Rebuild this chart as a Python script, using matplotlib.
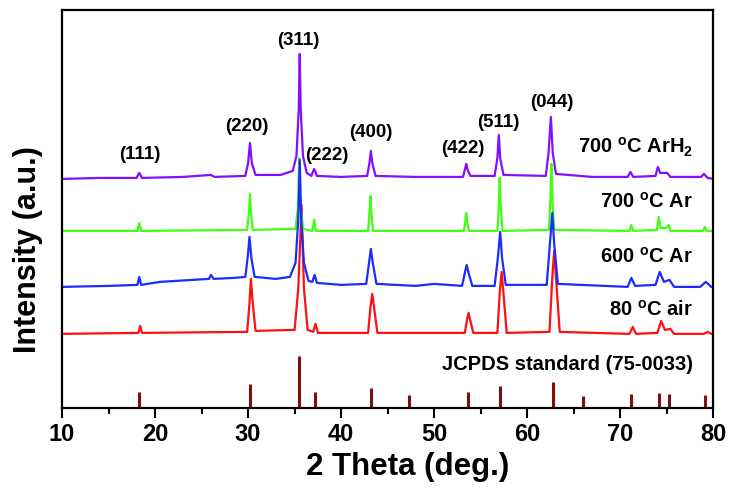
import matplotlib
matplotlib.use('Agg')
import matplotlib.pyplot as plt
from matplotlib.ticker import MultipleLocator

# XRD traces: (2 theta, intensity a.u.)
# each pattern is already stacked by its own offset
arh2_pts = [
    (10.0, 229), (14.0, 230), (18.0, 230), (18.3, 235), (18.6, 230),
    (23.0, 231), (26.0, 233), (26.4, 231),
    (29.7, 232), (30.0, 245), (30.2, 265), (30.4, 245), (30.8, 233),
    (33.5, 233), (34.8, 237), (35.2, 252), (35.45, 300), (35.55, 354), (35.65, 300), (35.9, 252), (36.3, 235),
    (36.8, 232), (37.1, 239), (37.4, 232),
    (40.0, 231), (42.8, 232), (43.05, 245), (43.2, 257), (43.35, 245), (43.7, 232),
    (48.0, 231), (53.1, 231), (53.35, 240), (53.45, 244), (53.6, 238), (53.9, 232),
    (56.5, 232), (56.8, 250), (56.95, 273), (57.1, 250), (57.45, 233),
    (62.0, 232), (62.3, 255), (62.55, 291), (62.75, 255), (63.1, 234),
    (67.0, 231), (70.8, 231), (71.1, 236), (71.4, 231),
    (73.8, 232), (74.05, 241), (74.3, 235), (75.05, 235), (75.4, 231),
    (78.7, 231), (79.0, 234), (79.4, 230), (80.0, 229)]

ar700_pts = [
    (10.0, 177), (18.1, 177), (18.3, 185), (18.5, 177),
    (29.9, 178), (30.1, 196), (30.2, 214), (30.3, 196), (30.5, 178),
    (35.1, 179), (35.35, 200), (35.5, 250), (35.65, 200), (35.9, 179),
    (36.9, 177), (37.1, 188), (37.3, 177),
    (42.9, 177), (43.05, 195), (43.15, 212), (43.25, 195), (43.45, 177),
    (53.2, 177), (53.35, 186), (53.45, 195), (53.55, 186), (53.75, 177),
    (56.8, 177), (56.95, 203), (57.05, 230), (57.15, 203), (57.35, 177),
    (62.35, 178), (62.5, 210), (62.6, 244), (62.7, 210), (62.9, 178),
    (71.0, 177), (71.2, 183), (71.4, 177),
    (73.95, 178), (74.15, 191), (74.35, 180), (75.0, 180), (75.2, 183), (75.4, 177),
    (78.9, 177), (79.1, 181), (79.3, 177), (80.0, 177)]

ar600_pts = [
    (10.0, 121), (15.0, 122), (18.1, 123), (18.3, 131), (18.5, 123),
    (20.5, 126), (24.0, 128), (25.8, 129), (26.0, 133), (26.3, 129), (28.5, 130),
    (29.7, 131), (29.95, 150), (30.15, 171), (30.35, 150), (30.7, 131),
    (33.0, 129), (34.5, 131), (35.1, 145), (35.4, 190), (35.55, 248), (35.7, 190), (36.0, 145), (36.5, 127),
    (36.9, 126), (37.15, 133), (37.4, 125),
    (40.0, 123), (42.7, 124), (43.0, 145), (43.2, 159), (43.4, 145), (43.8, 124),
    (48.0, 122), (50.0, 124), (53.0, 122), (53.3, 135), (53.5, 143), (53.7, 135), (54.1, 122),
    (56.5, 122), (56.85, 150), (57.1, 176), (57.3, 150), (57.7, 123),
    (62.1, 123), (62.45, 165), (62.7, 195), (62.9, 165), (63.3, 124),
    (70.8, 121), (71.2, 130), (71.6, 122),
    (73.8, 123), (74.25, 136), (74.7, 126), (75.3, 128), (75.8, 121),
    (78.6, 121), (79.2, 126), (79.8, 121), (80.0, 121)]

air80_pts = [
    (10.0, 74), (18.2, 75), (18.4, 82), (18.6, 75),
    (29.9, 76), (30.15, 105), (30.3, 129), (30.5, 105), (30.8, 77),
    (35.0, 78), (35.4, 120), (35.75, 203), (36.0, 120), (36.4, 78),
    (37.0, 76), (37.25, 84), (37.5, 75),
    (42.9, 75), (43.15, 100), (43.35, 114), (43.55, 100), (43.9, 75),
    (53.3, 75), (53.55, 89), (53.7, 95), (53.85, 89), (54.2, 75),
    (56.8, 75), (57.05, 115), (57.25, 136), (57.45, 115), (57.8, 75),
    (62.4, 76), (62.7, 130), (62.9, 157), (63.1, 130), (63.5, 76),
    (71.0, 74), (71.35, 81), (71.7, 74),
    (74.0, 75), (74.4, 87), (74.8, 78), (75.4, 79), (75.8, 74),
    (79.0, 74), (79.4, 76), (79.8, 74), (80.0, 74)]

# JCPDS 75-0033 reference lines
std_pos = [18.3, 30.2, 35.5, 37.2, 43.2, 47.3, 53.6, 57.1, 62.8, 66.0, 71.2, 74.2, 75.2, 79.1]
std_int = [15.7, 24, 52, 15.7, 20, 13, 15.7, 22, 25.7, 12.3, 13.7, 15, 13.7, 13.3]

hkl_labels = ['(111)', '(220)', '(311)', '(222)', '(400)', '(422)', '(511)', '(044)']
hkl_x = [18.4, 29.9, 35.4, 38.5, 43.2, 53.1, 56.9, 62.7]
hkl_y = [253, 281, 367, 252, 275, 259, 285, 305]

sample_labels = [r'700 $\mathregular{^o}$C ArH$\mathregular{_2}$', r'700 $\mathregular{^o}$C Ar',
                 r'600 $\mathregular{^o}$C Ar', r'80 $\mathregular{^o}$C air']
sample_y = [261, 206, 151, 98]

plt.rcParams['font.family'] = ['Liberation Sans', 'DejaVu Sans']
plt.rcParams['font.weight'] = 'bold'

fig = plt.figure(figsize=(7.3, 4.98), dpi=100)
ax = fig.add_axes([0.085, 0.181, 0.892, 0.799])

# draw order: red, green, purple, blue on top
traces = [(air80_pts, '#ff1010'), (ar700_pts, '#40ff10'), (arh2_pts, '#8010ff'), (ar600_pts, '#1a2cff')]
for pts, col in traces:
    xs, ys = zip(*pts)
    ax.plot(xs, ys, color=col, lw=1.6)

ax.vlines(std_pos, 0, std_int, color='#7a1010', lw=2.2)

for lab, x, y in zip(hkl_labels, hkl_x, hkl_y):
    ax.text(x, y, lab, ha='center', va='center', fontsize=13.5, fontweight='bold')
for lab, y in zip(sample_labels, sample_y):
    ax.text(77.85, y, lab, ha='right', va='center', fontsize=14.5, fontweight='bold')
ax.text(77.85, 43, 'JCPDS standard (75-0033)', ha='right', va='center', fontsize=14.5, fontweight='bold')

ax.set_xlim(10, 80)
ax.set_ylim(0, 398)
ax.xaxis.set_major_locator(MultipleLocator(10))
ax.xaxis.set_minor_locator(MultipleLocator(5))
ax.set_yticks([])
ax.tick_params(axis='x', which='major', length=7, width=1.5, direction='out', pad=4, labelsize=17)
ax.tick_params(axis='x', which='minor', length=4, width=1.5, direction='out')
for sp in ax.spines.values():
    sp.set_linewidth(1.6)

ax.set_xlabel('2 Theta (deg.)', fontsize=22.5, fontweight='bold')
ax.set_ylabel('Intensity (a.u.)', fontsize=22, fontweight='bold')
ax.xaxis.set_label_coords(0.53, -0.11)
ax.yaxis.set_label_coords(-0.03, 0.397)

fig.savefig('out.png', dpi=100)
